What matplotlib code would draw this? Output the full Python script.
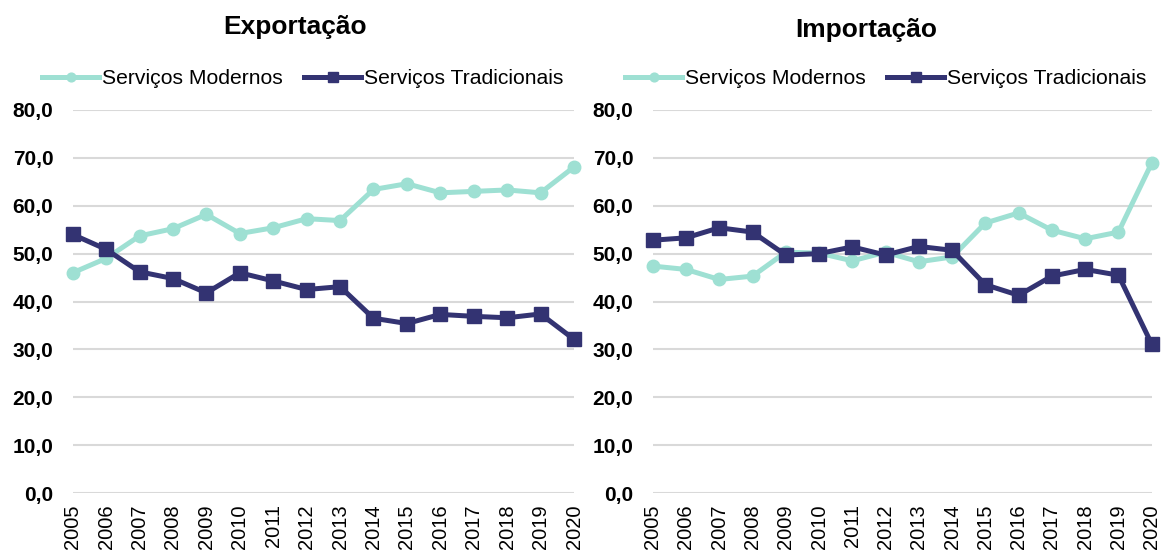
import matplotlib.pyplot as plt
import numpy as np

plt.rcParams['font.family'] = ['Liberation Sans', 'DejaVu Sans']

years = list(range(2005, 2021))

exp_modernos = [46.0, 49.0, 53.7, 55.2, 58.2, 54.2, 55.4, 57.3, 56.9, 63.4, 64.6, 62.7, 63.0, 63.3, 62.7, 68.1]
exp_tradicionais = [54.0, 50.9, 46.2, 44.8, 41.8, 46.0, 44.3, 42.5, 43.1, 36.5, 35.4, 37.3, 36.9, 36.6, 37.4, 32.1]

imp_modernos = [47.4, 46.7, 44.6, 45.3, 50.3, 50.1, 48.5, 50.3, 48.3, 49.3, 56.4, 58.5, 54.9, 53.1, 54.5, 68.9]
imp_tradicionais = [52.8, 53.3, 55.4, 54.5, 49.7, 50.0, 51.4, 49.7, 51.5, 50.7, 43.5, 41.3, 45.3, 46.7, 45.5, 31.1]

titles = ['Exportação', 'Importação']
labels = ['Serviços Modernos', 'Serviços Tradicionais']
c_mod = '#9EE0D3'
c_trad = '#333372'

W, H = 1166, 556
fig = plt.figure(figsize=(W / 100, H / 100), dpi=100)
ax_left = fig.add_axes([72.7 / W, 1 - 493 / H, 501.3 / W, 383 / H])
ax_right = fig.add_axes([652.7 / W, 1 - 493 / H, 499 / W, 383 / H])

# title centre x, title centre y, legend centre x (pixels)
panels = [
    (ax_left, exp_modernos, exp_tradicionais, titles[0], 295, 27, 303),
    (ax_right, imp_modernos, imp_tradicionais, titles[1], 866, 30, 886),
]

for ax, mod, trad, title, tx, ty, lx in panels:
    ax.plot(years, mod, color=c_mod, lw=3.6, marker='o', ms=9, label=labels[0],
            clip_on=False, zorder=3)
    ax.plot(years, trad, color=c_trad, lw=3.6, marker='s', ms=10, label=labels[1],
            clip_on=False, zorder=4)
    ax.set_xlim(2005, 2020)
    ax.set_ylim(0, 80)
    ax.set_yticks(np.arange(0, 81, 10))
    ax.set_yticklabels([f'{v:.1f}'.replace('.', ',') for v in range(0, 81, 10)],
                       fontweight='bold', fontsize=15)
    ax.set_xticks(years)
    ax.set_xticklabels([str(y) for y in years], rotation=90, fontsize=14.5)
    ax.tick_params(axis='both', length=0)
    ax.tick_params(axis='y', pad=14)
    ax.tick_params(axis='x', pad=8)
    ax.grid(axis='y', color='#D9D9D9', lw=1.5)
    ax.set_axisbelow(True)
    for s in ax.spines.values():
        s.set_visible(False)
    fig.legend(handles=ax.get_lines(), loc='center', bbox_to_anchor=(lx / W, 1 - 79 / H),
               ncol=2, frameon=False, fontsize=15.2, handlelength=2.7,
               columnspacing=1.0, handletextpad=0.15, markerscale=0.7)
    fig.text(tx / W, 1 - ty / H, title, fontsize=19, fontweight='bold',
             ha='center', va='center')

fig.savefig('out.png', dpi=100)
